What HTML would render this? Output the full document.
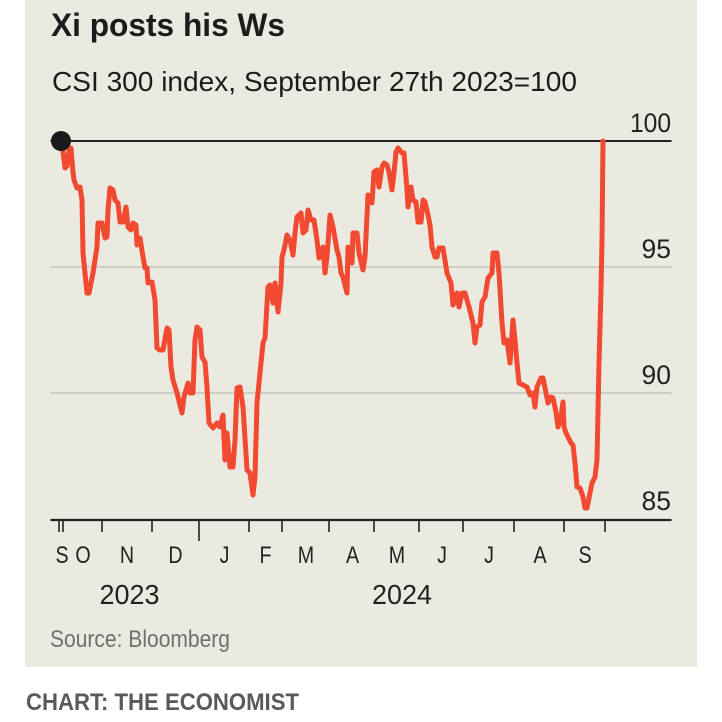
<!DOCTYPE html>
<html>
<head>
<meta charset="utf-8">
<style>
  html, body { margin: 0; padding: 0; background: #ffffff; }
  svg { display: block; }
  text { font-family: "Liberation Sans", "DejaVu Sans", sans-serif; }
</style>
</head>
<body>
<svg width="722" height="722" viewBox="0 0 722 722" xmlns="http://www.w3.org/2000/svg">
  <rect x="0" y="0" width="722" height="722" fill="#ffffff"/>
  <rect x="25" y="0" width="672" height="667" fill="#ebeae1"/>

  <!-- Title & subtitle -->
  <text x="51" y="36" font-size="32" font-weight="bold" fill="#1c1c1c" textLength="234" lengthAdjust="spacingAndGlyphs">Xi posts his Ws</text>
  <text x="52" y="91" font-size="28" fill="#1c1c1c" textLength="525" lengthAdjust="spacingAndGlyphs">CSI 300 index, September 27th 2023=100</text>

  <!-- Gridlines -->
  <line x1="50.5" y1="267" x2="671.5" y2="267" stroke="#c4c4bc" stroke-width="1.6"/>
  <line x1="50.5" y1="393" x2="671.5" y2="393" stroke="#c4c4bc" stroke-width="1.6"/>
  <line x1="50.5" y1="141" x2="671.5" y2="141" stroke="#222222" stroke-width="2"/>

  <!-- Y labels -->
  <g font-size="26.5" fill="#222222" text-anchor="end">
    <text x="671" y="132" textLength="41" lengthAdjust="spacingAndGlyphs">100</text>
    <text x="671" y="258">95</text>
    <text x="671" y="384">90</text>
    <text x="671" y="510">85</text>
  </g>

  <!-- X axis -->
  <line x1="50.5" y1="520" x2="671.5" y2="520" stroke="#222222" stroke-width="2.2"/>
  <g stroke="#222222" stroke-width="1.6">
    <line x1="59" y1="520" x2="59" y2="532"/>
    <line x1="63" y1="520" x2="63" y2="532"/>
    <line x1="102" y1="520" x2="102" y2="532"/>
    <line x1="152" y1="520" x2="152" y2="532"/>
    <line x1="199" y1="520" x2="199" y2="541"/>
    <line x1="249" y1="520" x2="249" y2="532"/>
    <line x1="282" y1="520" x2="282" y2="532"/>
    <line x1="329" y1="520" x2="329" y2="532"/>
    <line x1="374" y1="520" x2="374" y2="532"/>
    <line x1="419" y1="520" x2="419" y2="532"/>
    <line x1="463" y1="520" x2="463" y2="532"/>
    <line x1="514" y1="520" x2="514" y2="532"/>
    <line x1="564" y1="520" x2="564" y2="532"/>
    <line x1="605" y1="520" x2="605" y2="532"/>
  </g>

  <!-- Month labels -->
  <g font-size="24" fill="#222222" text-anchor="middle">
    <text transform="translate(62,563) scale(0.82,1)">S</text>
    <text transform="translate(83,563) scale(0.82,1)">O</text>
    <text transform="translate(127,563) scale(0.82,1)">N</text>
    <text transform="translate(175.5,563) scale(0.82,1)">D</text>
    <text transform="translate(224.5,563) scale(0.82,1)">J</text>
    <text transform="translate(265.5,563) scale(0.82,1)">F</text>
    <text transform="translate(306,563) scale(0.82,1)">M</text>
    <text transform="translate(352.5,563) scale(0.82,1)">A</text>
    <text transform="translate(397,563) scale(0.82,1)">M</text>
    <text transform="translate(442,563) scale(0.82,1)">J</text>
    <text transform="translate(489,563) scale(0.82,1)">J</text>
    <text transform="translate(540,563) scale(0.82,1)">A</text>
    <text transform="translate(585,563) scale(0.82,1)">S</text>
  </g>

  <!-- Year labels -->
  <text x="99.5" y="604" font-size="28" fill="#222222" textLength="60" lengthAdjust="spacingAndGlyphs">2023</text>
  <text x="372" y="604" font-size="28" fill="#222222" textLength="60" lengthAdjust="spacingAndGlyphs">2024</text>

  <!-- Source -->
  <text x="50" y="647" font-size="24.5" fill="#707070" textLength="180" lengthAdjust="spacingAndGlyphs">Source: Bloomberg</text>

  <!-- Series -->
  <polyline fill="none" stroke="#f24a31" stroke-width="5" stroke-linejoin="round" stroke-linecap="round"
    points="61,141 63,152 65,168 67,166 69,150 71,148 73,172 74,180 77,188 80,187 82,200 83,253 87,293 89,293 93,273 97,247 98,223 102,223 105,238 107,237 108,210 110,188 113,190 115,200 118,203 120,222 123,222 126,207 128,227 131,230 133,223 136,225 137,245 140,238 143,257 145,268 147,268 148,283 152,282 155,300 157,348 160,350 163,350 167,328 169,330 171,367 173,380 177,393 182,413 184,397 188,383 190,393 193,393 195,340 197,327 200,330 202,357 205,362 207,387 209,423 213,428 217,423 220,427 223,415 225,460 227,433 230,467 233,467 235,440 237,388 240,387 243,407 247,470 250,473 253,495 255,477 257,403 260,373 263,343 265,338 268,287 270,285 273,303 275,283 278,312 281,283 282,257 284,250 287,235 290,240 293,255 295,233 297,217 301,213 303,233 306,230 308,210 311,220 314,220 317,240 319,258 323,247 325,273 327,257 330,215 333,227 337,250 339,257 341,273 343,277 347,293 348,247 352,263 353,233 357,233 359,253 363,270 365,257 368,195 372,203 374,172 377,170 379,187 382,167 384,163 387,165 389,172 392,190 394,173 396,152 398,148 402,153 404,153 407,190 408,207 411,187 413,200 416,202 418,222 421,222 423,200 425,202 428,215 430,225 432,247 435,257 437,257 439,248 443,248 447,273 451,283 453,305 457,293 459,307 462,293 465,293 469,307 473,323 475,343 477,327 480,325 482,302 485,297 488,278 492,273 493,253 497,253 499,273 502,323 504,343 507,340 510,363 513,320 515,340 517,363 519,383 523,385 527,387 530,395 533,393 535,407 537,387 541,378 543,378 546,393 548,403 551,397 553,398 556,412 558,427 561,417 563,402 564,427 566,433 568,437 571,443 573,445 575,463 577,487 580,488 583,497 585,508 587,508 590,493 592,483 595,477 597,460 599,363 601,290 602,240 603,141"/>

  <!-- Start dot -->
  <circle cx="61" cy="141" r="10" fill="#1a1a1a"/>

  <!-- Footer -->
  <text x="26" y="710" font-size="24" font-weight="bold" fill="#5a5a5a" textLength="273" lengthAdjust="spacingAndGlyphs">CHART: THE ECONOMIST</text>
</svg>
</body>
</html>
